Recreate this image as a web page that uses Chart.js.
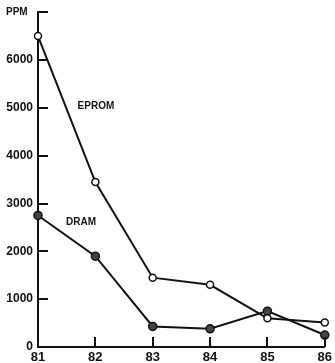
<!DOCTYPE html>
<html>
<head>
<meta charset="utf-8">
<title>EPROM and DRAM defect levels</title>
<script src="https://cdn.jsdelivr.net/npm/chart.js@4/dist/chart.umd.min.js"></script>
<style>
  html, body { margin: 0; padding: 0; background: #fff; }
  canvas { display: block; }
</style>
</head>
<body>
<canvas id="ppm" width="335" height="363"></canvas>
<script>
// Years (19xx) and defect levels in parts per million
const years = [81, 82, 83, 84, 85, 86];
const epromPpm = [6500, 3450, 1450, 1300, 600, 510];
const dramPpm = [2750, 1900, 430, 380, 750, 250];
const yTickValues = [0, 1000, 2000, 3000, 4000, 5000, 6000, 7000];
const seriesLabels = [
  { text: 'EPROM', x: 81.69, y: 5030 },
  { text: 'DRAM', x: 81.49, y: 2600 }
];

const FONT = '"Liberation Sans", Arial, Helvetica, sans-serif';

const toPoints = (xs, ys) => xs.map((x, i) => ({ x: x, y: ys[i] }));

// Short tick marks pointing into the plot, plus the unit and series captions
const innerTicks = {
  id: 'innerTicks',
  afterDatasetsDraw(chart) {
    const { ctx, chartArea, scales } = chart;
    const xs = scales.x, ys = scales.y;
    ctx.save();
    ctx.strokeStyle = '#111';
    ctx.lineWidth = 2;
    ctx.beginPath();
    yTickValues.forEach(v => {
      if (v === 0) return;
      const py = Math.round(ys.getPixelForValue(v));
      ctx.moveTo(chartArea.left, py);
      ctx.lineTo(chartArea.left + 10, py);
    });
    years.forEach((v, i) => {
      if (i === 0) return;
      const px = Math.round(xs.getPixelForValue(v));
      ctx.moveTo(px, chartArea.bottom);
      ctx.lineTo(px, chartArea.bottom - 10);
    });
    ctx.stroke();

    ctx.fillStyle = '#111';
    ctx.font = 'bold 10px ' + FONT;
    ctx.textBaseline = 'middle';
    ctx.textAlign = 'left';
    ctx.fillText('PPM', 6, Math.round(ys.getPixelForValue(7000)));
    seriesLabels.forEach(l => {
      ctx.fillText(l.text, xs.getPixelForValue(l.x), ys.getPixelForValue(l.y));
    });
    ctx.restore();
  }
};

new Chart(document.getElementById('ppm'), {
  type: 'line',
  data: {
    datasets: [
      {
        label: 'EPROM',
        data: toPoints(years, epromPpm),
        borderColor: '#111',
        borderWidth: 2,
        pointRadius: 3.5,
        pointBackgroundColor: '#fff',
        pointBorderColor: '#111',
        pointBorderWidth: 1.5,
        tension: 0,
        clip: false
      },
      {
        label: 'DRAM',
        data: toPoints(years, dramPpm),
        borderColor: '#111',
        borderWidth: 2,
        pointRadius: 4,
        pointBackgroundColor: '#444',
        pointBorderColor: '#111',
        pointBorderWidth: 1.5,
        tension: 0,
        clip: false
      }
    ]
  },
  options: {
    responsive: false,
    animation: false,
    devicePixelRatio: 1,
    layout: {
      autoPadding: false,
      padding: { top: 12, right: 6, left: 0, bottom: 0 }
    },
    plugins: {
      legend: { display: false },
      tooltip: { enabled: false }
    },
    scales: {
      x: {
        type: 'linear',
        min: 81,
        max: 86,
        afterFit: s => { s.height = 16; },
        afterBuildTicks: s => { s.ticks = years.map(v => ({ value: v })); },
        border: { display: true, color: '#111', width: 2 },
        grid: { display: false, drawTicks: false },
        ticks: {
          padding: 3,
          color: '#111',
          font: { family: FONT, size: 13, weight: 'bold' },
          maxRotation: 0,
          callback: v => String(v)
        }
      },
      y: {
        min: 0,
        max: 7000,
        afterFit: s => { s.width = 38; },
        afterBuildTicks: s => { s.ticks = yTickValues.map(v => ({ value: v })); },
        border: { display: true, color: '#111', width: 2 },
        grid: { display: false, drawTicks: false },
        ticks: {
          padding: 5,
          color: '#111',
          font: { family: FONT, size: 12, weight: 'bold' },
          callback: v => (v === 7000 ? '' : String(v))
        }
      }
    }
  },
  plugins: [innerTicks]
});
</script>
</body>
</html>
